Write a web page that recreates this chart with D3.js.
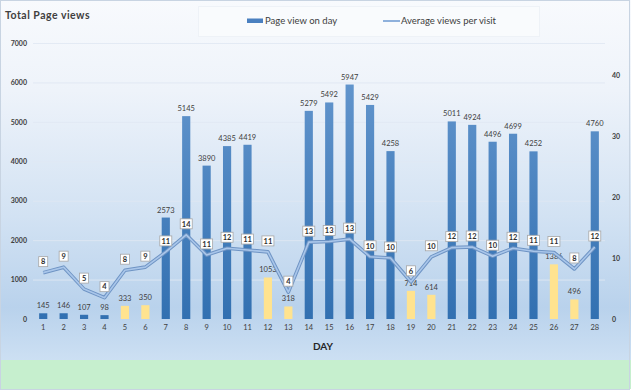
<!DOCTYPE html>
<html><head><meta charset="utf-8">
<script src="https://cdn.jsdelivr.net/npm/d3@7"></script>
<style>html,body{margin:0;padding:0;background:#fff}svg{display:block;font-family:Lato,"Open Sans",sans-serif}</style>
</head><body><svg id="c" width="631" height="392"></svg>
<script>
const days = d3.range(1, 29);
const pageViews = [145,146,107,98,333,350,2573,5145,3890,4385,4419,1053,318,5279,5492,5947,5429,4258,714,614,5011,4924,4496,4699,4252,1386,496,4760];
const avgViews = [7.6,8.5,4.9,3.5,8.0,8.5,11.0,13.8,10.5,11.6,11.3,11.0,4.4,12.6,12.7,13.1,10.2,10.0,6.1,10.2,11.7,11.8,10.3,11.6,11.1,10.9,8.2,11.8];
const weekendDays = [5,6,12,13,19,20,26,27];
const leftTicks = [0,1000,2000,3000,4000,5000,6000,7000];
const rightTicks = [0,10,20,30,40];
const seriesNames = ["Page view on day","Average views per visit"];

const svg = d3.select("#c");
const defs = svg.append("defs");
const bg = defs.append("linearGradient").attr("id","bg").attr("x1",0).attr("y1",0).attr("x2",0).attr("y2",1);
bg.append("stop").attr("offset","0%").attr("stop-color","#f8fafd");
bg.append("stop").attr("offset","25%").attr("stop-color","#eef3fa");
bg.append("stop").attr("offset","60%").attr("stop-color","#d2e2f3");
bg.append("stop").attr("offset","85%").attr("stop-color","#b9d2ec");
bg.append("stop").attr("offset","100%").attr("stop-color","#cde0f3");
const barG = defs.append("linearGradient").attr("id","barG").attr("gradientUnits","userSpaceOnUse")
  .attr("x1",0).attr("y1",43).attr("x2",0).attr("y2",319);
barG.append("stop").attr("offset","0%").attr("stop-color","#6a9bd1");
barG.append("stop").attr("offset","100%").attr("stop-color","#3270b1");

svg.append("rect").attr("x",0).attr("y",0).attr("width",631).attr("height",362).attr("fill","url(#bg)");
svg.append("rect").attr("x",0).attr("y",360).attr("width",631).attr("height",29).attr("fill","#c6efce");
svg.append("rect").attr("x",0.5).attr("y",0.5).attr("width",629).attr("height",389).attr("fill","none").attr("stroke","#c8d4e2");

const x = d3.scaleBand().domain(days).range([33,605]).paddingInner(0.6).paddingOuter(0.3);
const yL = d3.scaleLinear().domain([0,7000]).range([319,43]);
const yR = d3.scaleLinear().domain([0,45.25]).range([319,43]);

// gridlines
svg.append("g").selectAll("line").data(leftTicks.slice(1)).join("line")
  .attr("x1",33).attr("x2",605).attr("y1",d=>yL(d)+0.5).attr("y2",d=>yL(d)+0.5)
  .attr("stroke","#dfe8f2").attr("stroke-opacity",0.85);

// left axis
const axL = svg.append("g").attr("transform","translate(27,0)")
  .call(d3.axisLeft(yL).tickValues(leftTicks).tickFormat(d3.format("d")).tickSize(0).tickPadding(0));
axL.select(".domain").remove();
axL.selectAll("text").attr("font-size","7px").attr("font-weight","bold").attr("fill","#404040").attr("font-family","Lato,sans-serif");

// right axis
const axR = svg.append("g").attr("transform","translate(612,0)")
  .call(d3.axisRight(yR).tickValues(rightTicks).tickFormat(d3.format("d")).tickSize(0).tickPadding(0));
axR.select(".domain").remove();
axR.selectAll("text").attr("font-size","7px").attr("font-weight","bold").attr("fill","#404040").attr("font-family","Lato,sans-serif");

// x axis
const axX = svg.append("g").attr("transform","translate(0,325)")
  .call(d3.axisBottom(x).tickSize(0).tickPadding(0));
axX.select(".domain").remove();
axX.selectAll("text").attr("font-size","7.5px").attr("fill","#404040").attr("font-family","Lato,sans-serif");

// bars
svg.append("g").selectAll("rect").data(days).join("rect")
  .attr("x",d=>x(d)).attr("width",x.bandwidth())
  .attr("y",(d,i)=>yL(pageViews[i])).attr("height",(d,i)=>yL(0)-yL(pageViews[i]))
  .attr("fill",d=>weekendDays.includes(d)?"#ffe38f":"url(#barG)");

// bar labels
svg.append("g").selectAll("text").data(days).join("text")
  .attr("x",d=>x(d)+x.bandwidth()/2).attr("y",(d,i)=>yL(pageViews[i])-5)
  .attr("text-anchor","middle").attr("font-size","7.5px").attr("fill","#404040")
  .text((d,i)=>pageViews[i]);

// line
const line = d3.line().x((d,i)=>x(days[i])+x.bandwidth()/2).y(d=>yR(d));
svg.append("path").datum(avgViews).attr("d",line).attr("fill","none")
  .attr("stroke","#6f94c4").attr("stroke-width",3.6).attr("stroke-linejoin","round");
svg.append("path").datum(avgViews).attr("d",line).attr("fill","none")
  .attr("stroke","#a9c6ea").attr("stroke-width",1.6).attr("stroke-linejoin","round");

// line labels
const lg = svg.append("g").selectAll("g").data(avgViews).join("g")
  .attr("transform",(d,i)=>`translate(${x(days[i])+x.bandwidth()/2},${yR(d)-11})`);
lg.append("rect")
  .attr("x",d=>Math.round(d)>=10?-6:-4.5).attr("width",d=>Math.round(d)>=10?12:9)
  .attr("y",-5).attr("height",10).attr("fill","#fff").attr("stroke","#a6a6a6").attr("stroke-width",0.8);
lg.append("text").attr("text-anchor","middle").attr("y",2.8)
  .attr("font-size","7.5px").attr("fill","#303030").attr("font-weight","bold").text(d=>Math.round(d));

// title
svg.append("text").attr("x",5).attr("y",19).attr("font-size","10.5px").attr("font-weight","bold")
  .attr("fill","#404040").attr("letter-spacing","0.5px").text("Total Page views");
// axis title
svg.append("text").attr("x",323).attr("y",350).attr("text-anchor","middle").attr("font-size","10px")
  .attr("font-weight","bold").attr("fill","#262626").text("DAY");

// legend
svg.append("rect").attr("x",198.5).attr("y",6.5).attr("width",341).attr("height",30)
  .attr("fill","#f9fbfd").attr("stroke","#eef2f7");
svg.append("rect").attr("x",247).attr("y",18.5).attr("width",16).attr("height",4.5).attr("fill","#4a80c0");
svg.append("text").attr("x",265).attr("y",24).attr("font-size","9.5px").attr("fill","#404040").text(seriesNames[0]);
svg.append("line").attr("x1",383).attr("x2",400).attr("y1",21).attr("y2",21).attr("stroke","#8fb1dc").attr("stroke-width",2);
svg.append("text").attr("x",401).attr("y",24).attr("font-size","9.5px").attr("fill","#404040").text(seriesNames[1]);
</script></body></html>
